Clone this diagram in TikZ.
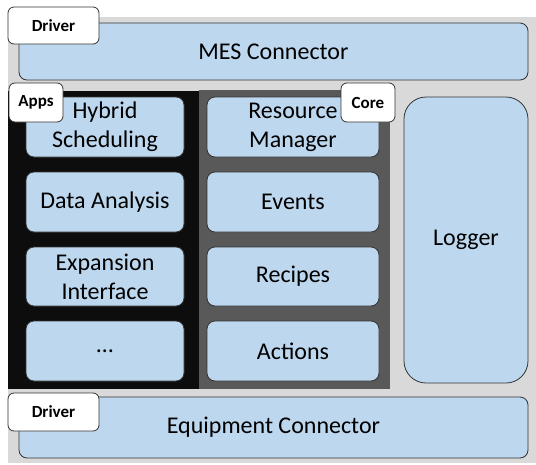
\documentclass[tikz,border=0pt]{standalone}
\usepackage{fontspec}
\setmainfont{Carlito}
\definecolor{boxblue}{HTML}{BDD7EE}
\definecolor{bggray}{HTML}{D9D9D9}
\definecolor{appsblack}{HTML}{0D0D0D}
\definecolor{coregray}{HTML}{595959}
\definecolor{edge}{HTML}{333333}
\tikzset{
  box/.style={draw=edge, line width=0.8pt, fill=boxblue, rounded corners=8pt, inner sep=0pt, align=center, font=\fontsize{24}{29}\selectfont},
  tag/.style={draw=edge, line width=0.8pt, fill=white, rounded corners=6pt, inner sep=0pt, font=\fontsize{17}{20}\selectfont\bfseries},
  region/.style={draw=none, inner sep=0pt}
}
\begin{document}
\begin{tikzpicture}[x=1pt,y=-1pt]
\useasboundingbox (0,0) rectangle (536,464);
\node[region, fill=bggray, minimum width=528pt, minimum height=446pt] (bg) at (272,240) {};
\node[region, fill=appsblack, minimum width=191pt, minimum height=298pt] (apps) at (103.5,239.5) {};
\node[region, fill=coregray, minimum width=191pt, minimum height=299pt] (core) at (294.5,239.5) {};
\node[box, minimum width=509pt, minimum height=57pt] (mes) at (273.5,51.5) {MES Connector};
\node[box, minimum width=509pt, minimum height=61pt] (equip) at (273.5,427.5) {Equipment Connector};
\node[box, minimum width=158pt, minimum height=60pt] (hybrid) at (105,127) {Hybrid\\Scheduling};
\node[box, minimum width=158pt, minimum height=60pt] (data) at (105,202) {Data Analysis};
\node[box, minimum width=158pt, minimum height=59pt] (exp) at (105,276.5) {Expansion\\Interface};
\node[box, minimum width=158pt, minimum height=60pt] (dots) at (105,351) {\dots};
\node[box, minimum width=172pt, minimum height=60pt] (res) at (293,127) {Resource\\Manager};
\node[box, minimum width=172pt, minimum height=60pt] (events) at (293,202) {Events};
\node[box, minimum width=172pt, minimum height=59pt] (recipes) at (293,276.5) {Recipes};
\node[box, minimum width=172pt, minimum height=60pt] (actions) at (293,351) {Actions};
\node[box, rounded corners=22pt, minimum width=124pt, minimum height=286pt] (logger) at (466,240) {Logger};
\node[tag, minimum width=91pt, minimum height=37pt] (drvtop) at (53.5,25.5) {Driver};
\node[tag, minimum width=91pt, minimum height=38pt] (drvbot) at (53.5,412) {Driver};
\node[tag, minimum width=54pt, minimum height=39pt] (appstag) at (36,102.5) {Apps};
\node[tag, minimum width=54pt, minimum height=39pt] (coretag) at (368,102.5) {Core};
\end{tikzpicture}
\end{document}
